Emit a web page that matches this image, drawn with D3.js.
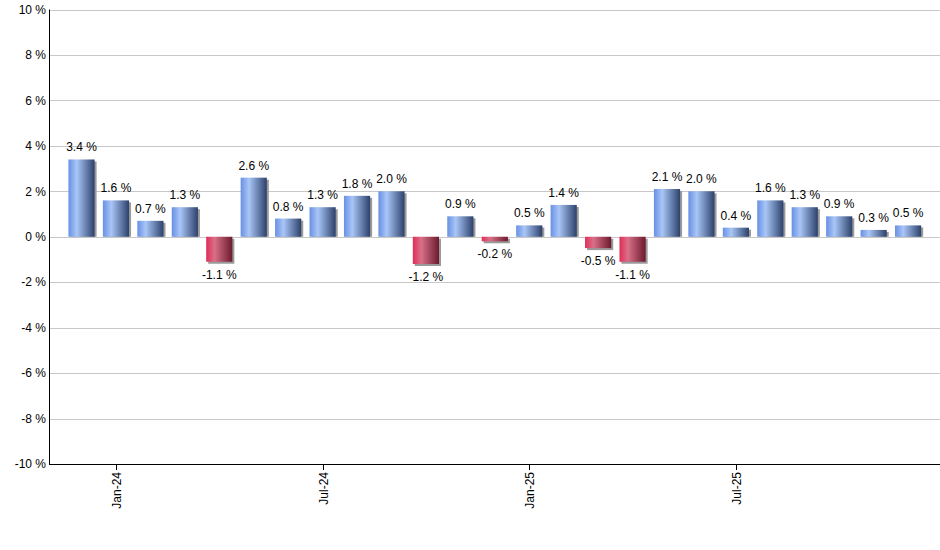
<!DOCTYPE html>
<html>
<head>
<meta charset="utf-8">
<script src="https://cdn.jsdelivr.net/npm/d3@7"></script>
<style>
  body { margin: 0; background: #fff; }
  text { font-family: Arial, "Liberation Sans", sans-serif; font-size: 12px; fill: #000; }
</style>
</head>
<body>
<div id="chart"></div>
<script>
// monthly returns, Dec-23 .. Dec-25
var months = ["Dec-23", "Jan-24", "Feb-24", "Mar-24", "Apr-24", "May-24", "Jun-24",
  "Jul-24", "Aug-24", "Sep-24", "Oct-24", "Nov-24", "Dec-24", "Jan-25", "Feb-25",
  "Mar-25", "Apr-25", "May-25", "Jun-25", "Jul-25", "Aug-25", "Sep-25", "Oct-25",
  "Nov-25", "Dec-25"];
var values = [3.4, 1.6, 0.7, 1.3, -1.1, 2.6, 0.8, 1.3, 1.8, 2.0, -1.2, 0.9, -0.2,
  0.5, 1.4, -0.5, -1.1, 2.1, 2.0, 0.4, 1.6, 1.3, 0.9, 0.3, 0.5];
var tickMonths = ["Jan-24", "Jul-24", "Jan-25", "Jul-25"];
var yTicks = [-10, -8, -6, -4, -2, 0, 2, 4, 6, 8, 10];

var width = 940, height = 550;
var plotLeft = 49, plotTop = 9.5, plotBottom = 464;

var data = months.map(function(m, i) { return { month: m, value: values[i] }; });

var svg = d3.select("#chart")
  .append("svg")
  .attr("width", width)
  .attr("height", height);

//gradients for the bars
var defs = svg.append("defs");
function addGradient(id, stops) {
  var g = defs.append("linearGradient")
    .attr("id", id)
    .attr("x1", "0%").attr("x2", "100%")
    .attr("y1", "0%").attr("y2", "0%");
  stops.forEach(function(s) {
    g.append("stop").attr("offset", s[0]).attr("stop-color", s[1]);
  });
}
addGradient("blueGrad", [["0%", "#6890e4"], ["32%", "#a9c6f7"], ["100%", "#2c416b"]]);
addGradient("redGrad", [["0%", "#e22c56"], ["32%", "#d87088"], ["100%", "#6c1a2e"]]);

var x = d3.scaleBand()
  .domain(months)
  .range([64.3, 925.3])
  .paddingInner(0.24)
  .paddingOuter(0.12);

var y = d3.scaleLinear()
  .domain([-10, 10])
  .range([plotBottom, plotTop]);

//gridlines
svg.append("g")
  .selectAll("line")
  .data(yTicks)
  .enter()
  .append("line")
  .attr("x1", plotLeft)
  .attr("x2", width)
  .attr("y1", function(d) { return Math.round(y(d)) + 0.5; })
  .attr("y2", function(d) { return Math.round(y(d)) + 0.5; })
  .attr("stroke", "#c8c8c8")
  .attr("stroke-width", 1);

//y labels
svg.append("g")
  .selectAll("text")
  .data(yTicks)
  .enter()
  .append("text")
  .attr("x", plotLeft - 3)
  .attr("y", function(d) { return y(d); })
  .attr("dy", "0.35em")
  .attr("text-anchor", "end")
  .text(function(d) { return d + " %"; });

//bars
var bars = svg.append("g")
  .selectAll("g")
  .data(data)
  .enter()
  .append("g");

//shadow: right edge, plus bottom edge for negative bars
bars.append("rect")
  .attr("x", function(d) { return x(d.month) + 2; })
  .attr("y", function(d) { return Math.min(y(d.value), y(0)) + 2; })
  .attr("width", x.bandwidth())
  .attr("height", function(d) {
    var h = Math.abs(y(d.value) - y(0));
    return d.value < 0 ? h : Math.max(0, h - 2);
  })
  .attr("fill", "#9a9a9a");

bars.append("rect")
  .attr("x", function(d) { return x(d.month); })
  .attr("y", function(d) { return Math.min(y(d.value), y(0)); })
  .attr("width", x.bandwidth())
  .attr("height", function(d) { return Math.abs(y(d.value) - y(0)); })
  .style("fill", function(d) {
    return d.value < 0 ? "url(#redGrad)" : "url(#blueGrad)";
  });

bars.append("text")
  .attr("x", function(d) { return x(d.month) + x.bandwidth() / 2; })
  .attr("y", function(d) {
    return d.value < 0 ? y(d.value) + 17 : y(d.value) - 8;
  })
  .attr("text-anchor", "middle")
  .text(function(d) { return d.value.toFixed(1) + " %"; });

//axes lines
svg.append("line")
  .attr("x1", plotLeft + 0.5).attr("x2", plotLeft + 0.5)
  .attr("y1", plotTop).attr("y2", plotBottom + 1)
  .attr("stroke", "#000");
svg.append("line")
  .attr("x1", plotLeft).attr("x2", width)
  .attr("y1", plotBottom + 0.5).attr("y2", plotBottom + 0.5)
  .attr("stroke", "#000");

//x ticks
var xt = svg.append("g")
  .selectAll("g")
  .data(tickMonths)
  .enter()
  .append("g")
  .attr("transform", function(d) {
    return "translate(" + (Math.round(x(d) + x.bandwidth() / 2) + 0.5) + "," + plotBottom + ")";
  });
xt.append("line")
  .attr("y1", 0).attr("y2", 6)
  .attr("stroke", "#000");
xt.append("text")
  .attr("transform", "translate(0,8) rotate(-90)")
  .attr("dy", "0.35em")
  .attr("text-anchor", "end")
  .text(function(d) { return d; });
</script>
</body>
</html>
